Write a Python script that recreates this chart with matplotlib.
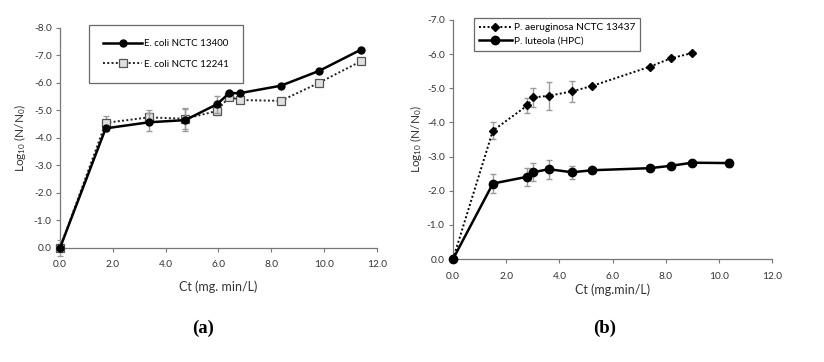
import matplotlib
matplotlib.use("Agg")
import matplotlib.pyplot as plt
from matplotlib.ticker import FormatStrFormatter, MultipleLocator

plt.rcParams['font.family'] = ['Lato', 'DejaVu Sans']
plt.rcParams['mathtext.default'] = 'regular'

# ---- Panel (a) data ----
a_ct = [0.0, 1.73, 3.36, 4.74, 5.93, 6.41, 6.81, 8.36, 9.81, 11.39]
a_13400 = [0.0, -4.35, -4.57, -4.65, -5.22, -5.63, -5.63, -5.90, -6.44, -7.21]
a_13400_err = [0.0, 0.10, 0.33, 0.40, 0.30, 0.05, 0.05, 0.05, 0.05, 0.05]
a_12241 = [0.0, -4.55, -4.75, -4.70, -4.98, -5.50, -5.38, -5.35, -6.01, -6.79]
a_12241_err = [0.30, 0.25, 0.25, 0.38, 0.15, 0.08, 0.05, 0.05, 0.05, 0.08]

# ---- Panel (b) data ----
b_ct_pa = [0.0, 1.50, 2.80, 3.01, 3.60, 4.48, 5.24, 7.40, 8.20, 8.99]
b_pa = [0.0, -3.76, -4.50, -4.73, -4.78, -4.91, -5.07, -5.63, -5.88, -6.03]
b_pa_err = [0.0, 0.24, 0.21, 0.28, 0.41, 0.31, 0.03, 0.03, 0.03, 0.03]
b_ct_pl = [0.0, 1.50, 2.80, 3.01, 3.60, 4.48, 5.24, 7.40, 8.20, 8.99, 10.38]
b_pl = [0.0, -2.21, -2.41, -2.54, -2.63, -2.54, -2.60, -2.66, -2.73, -2.82, -2.81]
b_pl_err = [0.0, 0.28, 0.26, 0.26, 0.28, 0.19, 0.03, 0.03, 0.03, 0.03, 0.12]

fig = plt.figure(figsize=(8.24, 3.62), dpi=100)
axa = fig.add_axes([0.0728, 0.315, 0.3847, 0.6077])
axb = fig.add_axes([0.5498, 0.2845, 0.3871, 0.6603])

ecol = '#9a9a9a'

def style(ax, ymin, xlabel, xpad, ypad):
    ax.set_xlim(0, 12)
    ax.set_ylim(0, ymin)
    ax.xaxis.set_major_locator(MultipleLocator(2))
    ax.yaxis.set_major_locator(MultipleLocator(1))
    ax.xaxis.set_major_formatter(FormatStrFormatter('%.1f'))
    ax.yaxis.set_major_formatter(FormatStrFormatter('%.1f'))
    for s in ['top', 'right']:
        ax.spines[s].set_visible(False)
    for s in ['left', 'bottom']:
        ax.spines[s].set_color('#777777')
        ax.spines[s].set_linewidth(0.9)
    ax.tick_params(axis='both', direction='out', length=3, width=0.8,
                   color='#777777', labelsize=7.3, labelcolor='#333333', pad=3)
    ax.tick_params(axis='x', pad=6)
    ax.set_xlabel(xlabel, fontsize=9, color='#333333', labelpad=xpad)
    ax.set_ylabel(r'Log$_{10}$ (N/N$_0$)', fontsize=8.5, color='#333333', labelpad=ypad)

# Panel (a)
c2 = axa.errorbar(a_ct, a_12241, yerr=a_12241_err, color='#222222', ls=(0, (1, 1.2)), lw=1.4,
                  marker='s', ms=5.5, mfc='#e0e0e0', mec='#555555', mew=0.9,
                  ecolor=ecol, elinewidth=1.0, capsize=2.5, capthick=1.0,
                  clip_on=False, zorder=3)
c1 = axa.errorbar(a_ct, a_13400, yerr=a_13400_err, color='black', ls='-', lw=1.8,
                  marker='o', ms=5, mfc='black', mec='black',
                  ecolor=ecol, elinewidth=1.0, capsize=2.5, capthick=1.0,
                  clip_on=False, zorder=4)
style(axa, -8, 'Ct (mg. min/L)', 8, 4)
lega = axa.legend([c1.lines[0], c2.lines[0]], ['E. coli NCTC 13400', 'E. coli NCTC 12241'],
                  loc='upper left', bbox_to_anchor=(0.09, 1.014), borderaxespad=0,
                  fontsize=7, frameon=True, fancybox=False, edgecolor='#444444',
                  handlelength=4.0, borderpad=1.5, labelspacing=1.15, handletextpad=0.2)
lega.get_frame().set_linewidth(0.9)

# Panel (b)
c3 = axb.errorbar(b_ct_pa, b_pa, yerr=b_pa_err, color='black', ls=(0, (1, 1.2)), lw=1.4,
                  marker='D', ms=4.5, mfc='black', mec='black',
                  ecolor=ecol, elinewidth=1.0, capsize=2.5, capthick=1.0,
                  clip_on=False, zorder=3)
c4 = axb.errorbar(b_ct_pl, b_pl, yerr=b_pl_err, color='black', ls='-', lw=1.8,
                  marker='o', ms=6, mfc='black', mec='black',
                  ecolor=ecol, elinewidth=1.0, capsize=2.5, capthick=1.0,
                  clip_on=False, zorder=4)
style(axb, -7, 'Ct (mg.min/L)', 2, 2)
legb = axb.legend([c3.lines[0], c4.lines[0]], ['P. aeruginosa NCTC 13437', 'P. luteola (HPC)'],
                  loc='upper left', bbox_to_anchor=(0.066, 1.008), borderaxespad=0,
                  fontsize=7.3, frameon=True, fancybox=False, edgecolor='#444444',
                  handlelength=3.2, borderpad=0.5, labelspacing=0.45, handletextpad=0.2)
legb.get_frame().set_linewidth(0.9)

fig.text(0.2464, 0.094, '(a)', fontsize=13.5, fontweight='bold',
         family=['Liberation Serif', 'DejaVu Serif'], ha='center', va='center')
fig.text(0.7342, 0.094, '(b)', fontsize=13.5, fontweight='bold',
         family=['Liberation Serif', 'DejaVu Serif'], ha='center', va='center')

fig.savefig('out.png', dpi=100)
